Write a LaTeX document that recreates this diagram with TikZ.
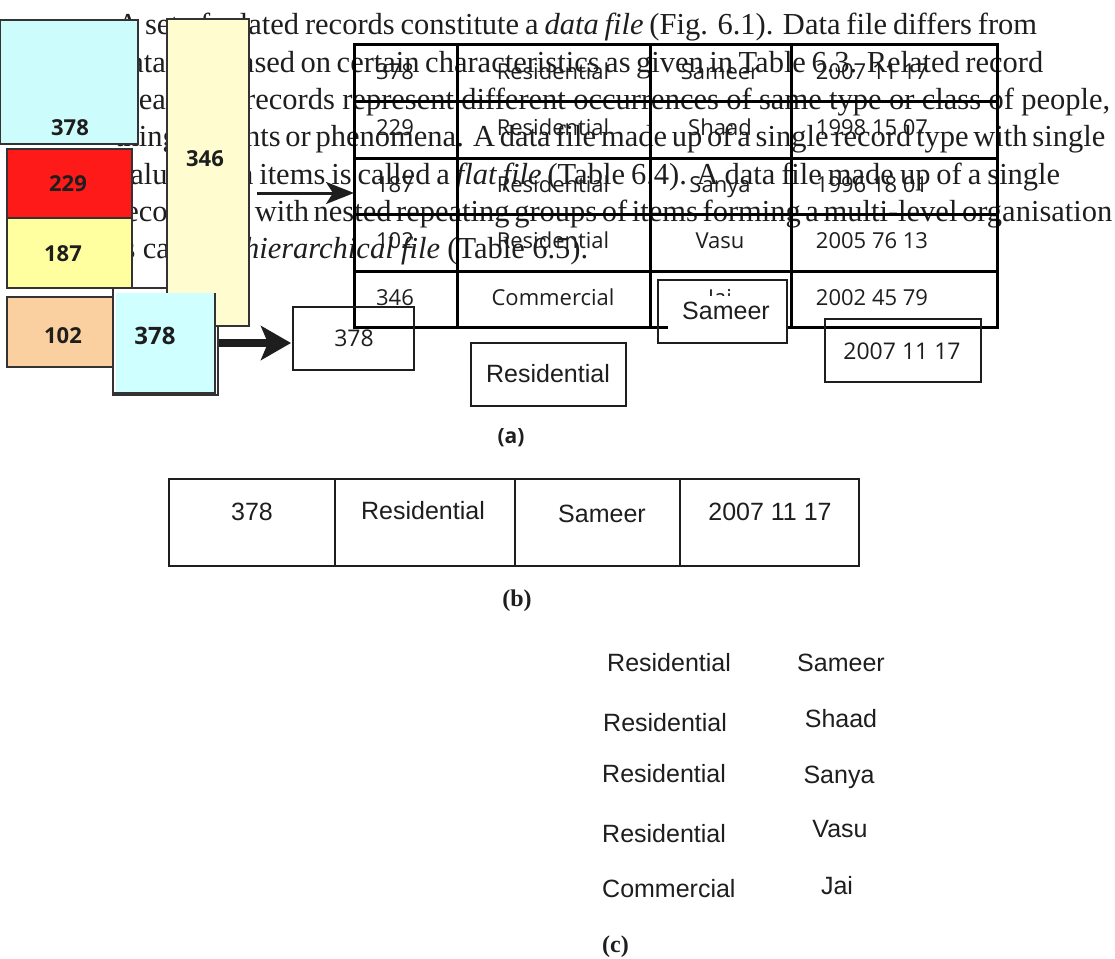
\documentclass[tikz,border=0pt]{standalone}
\usepackage{fontspec}
\setmainfont{Liberation Serif}
\newfontfamily\osans{Open Sans}
\newfontfamily\lsans{Liberation Sans}
\usetikzlibrary{arrows.meta}

\definecolor{cyanA}{RGB}{204,252,252}
\definecolor{redA}{RGB}{255,26,26}
\definecolor{yelA}{RGB}{255,255,160}
\definecolor{orgA}{RGB}{251,208,160}
\definecolor{yelB}{RGB}{255,253,208}
\definecolor{cyanB}{RGB}{208,255,255}
\definecolor{edgeC}{RGB}{51,51,51}
\definecolor{inkC}{RGB}{30,30,30}

\newcommand{\myBodyFont}{\fontsize{30.5}{36}\selectfont\spaceskip=.25em plus .8em minus .16em\relax}

\tikzset{
  txt/.style={anchor=base west, inner sep=0pt, text=inkC, font=\myBodyFont},
  tline/.style={line width=3pt, black},
  cell/.style={anchor=base, inner sep=0pt, font=\osans\fontsize{22}{26}\selectfont, text=inkC},
  cbox/.style={draw=edgeC, line width=1.5pt},
  numb/.style={anchor=base, inner sep=0pt, font=\osans\bfseries\fontsize{22}{26}\selectfont, text=inkC},
  bw/.style={draw=inkC, line width=2pt},
  ssans/.style={anchor=base, inner sep=0pt, font=\lsans\fontsize{25}{30}\selectfont, text=inkC},
  capt/.style={anchor=base, inner sep=0pt, font=\bfseries\fontsize{24}{28}\selectfont, text=inkC},
  thinarrow/.style={line width=3pt, inkC, -{Stealth[length=28pt,width=22pt,inset=7pt]}},
  thickarrow/.style={line width=8pt, inkC, -{Stealth[length=30pt,width=34pt,inset=7pt]}}
}

\begin{document}
\begin{tikzpicture}[x=1pt,y=-1pt]
\useasboundingbox (0,0) rectangle (1115,958);
\fill[white] (0,0) rectangle (1115,958);

% background paragraph
\node[txt] (t1) at (117,35) {\makebox[920pt][s]{A set of related records constitute a \textit{data file} (Fig. 6.1). Data file differs from}};
\node[txt] (t2) at (115,72) {\makebox[928pt][s]{database based on certain characteristics as given in Table 6.3. Related record}};
\node[txt] (t3) at (115,109) {\makebox[995pt][s]{means the records represent different occurrences of same type or class of people,}};
\node[txt] (t4) at (115,146) {\makebox[990pt][s]{things, events or phenomena. A data file made up of a single record type with single}};
\node[txt] (t5) at (115,184) {\makebox[945pt][s]{valued data items is called a \textit{flat file} (Table 6.4). A data file made up of a single}};
\node[txt] (t6) at (115,221) {\makebox[997pt][s]{record type with nested repeating groups of items forming a multi-level organisation}};
\node[txt] (t7) at (115,258) {\makebox[473pt][s]{is called a \textit{hierarchical file} (Table 6.5).}};

% table (a)
\draw[tline] (354,45) rectangle (997,327);
\foreach \yy in {101,158,214,271} \draw[tline] (354,\yy) -- (997,\yy);
\foreach \xx in {457,650,791} \draw[tline] (\xx,45) -- (\xx,327);
\coordinate (tblW) at (354,193);

\node[cell] (r1a) at (395,79) {378};
\node[cell] (r1b) at (553,79) {Residential};
\node[cell] (r1c) at (720,79) {Sameer};
\node[cell] (r1d) at (872,79) {2007 11 17};
\node[cell] (r2a) at (395,135) {229};
\node[cell] (r2b) at (553,135) {Residential};
\node[cell] (r2c) at (720,135) {Shaad};
\node[cell] (r2d) at (872,135) {1998 15 07};
\node[cell] (r3a) at (395,192) {187};
\node[cell] (r3b) at (553,192) {Residential};
\node[cell] (r3c) at (720,192) {Sanya};
\node[cell] (r3d) at (872,192) {1996 18 01};
\node[cell] (r4a) at (395,248) {102};
\node[cell] (r4b) at (553,248) {Residential};
\node[cell] (r4c) at (720,248) {Vasu};
\node[cell] (r4d) at (872,248) {2005 76 13};
\node[cell] (r5a) at (395,305) {346};
\node[cell] (r5b) at (553,305) {Commercial};
\node[cell] (r5c) at (720,305) {Jai};
\node[cell] (r5d) at (872,305) {2002 45 79};

% extracted field boxes
\draw[bw] (293,307) rectangle (414,370);
\node[cell, font=\osans\fontsize{23}{27}\selectfont] (f378) at (354,346) {378};
\coordinate (f378W) at (291,343);

\draw[bw] (471,343) rectangle (626,406);
\node[ssans] (fres) at (548,382) {Residential};

\fill[white] (668,296) rectangle (786,342);
\draw[bw] (658,280) rectangle (787,343);
\node[ssans] (fsam) at (726,319) {Sameer};

\draw[bw] (825,319) rectangle (981,382);
\node[cell, font=\osans\fontsize{23}{27}\selectfont] (fdate) at (902,359) {2007 11 17};

\node[anchor=base, inner sep=0pt, font=\osans\bfseries\fontsize{21}{25}\selectfont, text=inkC] (capA) at (511,443) {(a)};

% coloured record cards
\draw[cbox, fill=cyanA] (0,20) rectangle (138,144);
\node[numb] (k378) at (70,135) {378};
\draw[cbox, fill=redA] (7,149) rectangle (132,218);
\node[numb] (k229) at (68,191) {229};
\draw[cbox, fill=yelA] (7,218) rectangle (132,288);
\node[numb] (k187) at (63,261) {187};
\draw[cbox, fill=orgA] (7,297) rectangle (132,367);
\node[numb] (k102) at (63,343) {102};
\draw[cbox, fill=white] (113,288) rectangle (218,395);
\draw[cbox, fill=yelB] (167,19) rectangle (249,326);
\node[numb] (k346) at (205,166) {346};
\fill[cyanB] (116,293) rectangle (215,393);
\draw[cbox] (215,293) -- (215,393) -- (113,393);
\node[numb, font=\osans\bfseries\fontsize{24}{28}\selectfont] (kfront) at (155,344) {378};
\coordinate (k346E) at (257,193);
\coordinate (kfrontE) at (219,343);

% arrows
\draw[thinarrow] (k346E) -- (tblW);
\draw[thickarrow] (kfrontE) -- (f378W);

% (b) single record
\draw[line width=2pt, inkC] (169,479) rectangle (859,566);
\foreach \xx in {335,515,680} \draw[line width=2pt, inkC] (\xx,479) -- (\xx,566);
\node[ssans] (b1) at (252,520) {378};
\node[ssans] (b2) at (423,519) {Residential};
\node[ssans] (b3) at (602,522) {Sameer};
\node[ssans] (b4) at (770,520) {2007 11 17};
\node[capt] (capB) at (517,606) {(b)};

% (c) columns
\node[ssans, anchor=base west] (c1a) at (607,671) {Residential};
\node[ssans] (c1b) at (841,671) {Sameer};
\node[ssans, anchor=base west] (c2a) at (603,731) {Residential};
\node[ssans] (c2b) at (841,727) {Shaad};
\node[ssans, anchor=base west] (c3a) at (602,782) {Residential};
\node[ssans] (c3b) at (839,783) {Sanya};
\node[ssans, anchor=base west] (c4a) at (602,842) {Residential};
\node[ssans] (c4b) at (840,837) {Vasu};
\node[ssans, anchor=base west] (c5a) at (602,897) {Commercial};
\node[ssans] (c5b) at (837,894) {Jai};
\node[capt, anchor=base west] (capC) at (602,952) {(c)};
\end{tikzpicture}
\end{document}
